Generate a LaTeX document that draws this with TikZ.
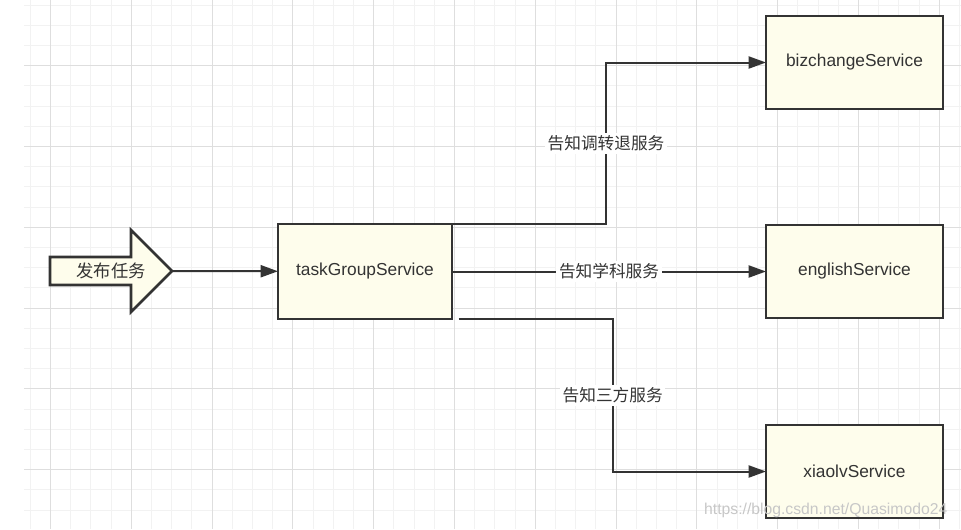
\documentclass[tikz,border=0pt]{standalone}
\usepackage{fontspec}
\setmainfont{Liberation Sans}
\newfontfamily\cjk{Noto Sans CJK SC}
\usepackage{tikz}
\usetikzlibrary{arrows.meta,positioning}

\definecolor{ink}{RGB}{51,51,51}
\definecolor{boxfill}{RGB}{254,253,236}
\definecolor{gridminor}{RGB}{242,242,242}
\definecolor{gridmajor}{RGB}{222,222,222}

\begin{document}
\begin{tikzpicture}[
  x=0.75pt, y=-0.75pt,
  svc/.style={draw=ink, line width=1.9pt, fill=boxfill, text=ink, outer sep=0pt,
              minimum width=132.75pt, minimum height=69.75pt,
              font=\fontsize{13}{15}\selectfont},
  arr/.style={-{Triangle[length=13pt,width=9pt]}, draw=ink, line width=1.5pt},
  lbl/.style={fill=white, text=ink, inner sep=2pt,
              font=\cjk\fontsize{12.5}{15}\selectfont}
]
% background and grid
\useasboundingbox (0,0) rectangle (961,529);
\fill[white] (0,0) rectangle (961,529);
\foreach \k in {0,...,46}
  \draw[gridminor, line width=0.75pt] ({round(29.8+20.2*\k)+0.5},0) -- ({round(29.8+20.2*\k)+0.5},529);
\foreach \k in {0,...,25}
  \draw[gridminor, line width=0.75pt] (24,{round(4.6+20.2*\k)+0.5}) -- (961,{round(4.6+20.2*\k)+0.5});
\foreach \k in {0,...,11}
  \draw[gridmajor, line width=0.9pt] ({round(50+80.8*\k)+0.5},0) -- ({round(50+80.8*\k)+0.5},529);
\foreach \k in {0,...,5}
  \draw[gridmajor, line width=0.9pt] (24,{round(65.2+80.8*\k)+0.5}) -- (961,{round(65.2+80.8*\k)+0.5});

% publish arrow
\draw[draw=ink, line width=1.9pt, fill=boxfill, line join=miter]
  (50,257) -- (131,257) -- (131,230) -- (172,271) -- (131,312) -- (131,285)
  -- (50,285) -- cycle;
\node[text=ink, font=\cjk\fontsize{13}{15}\selectfont] (publish) at (111,271) {发布任务};
\coordinate (publish tip) at (172,271);

% services
\node[svc, minimum width=130.5pt, minimum height=71.25pt] (taskgroup) at (365,271.5)
  {taskGroupService};
\node[svc, right=235.5pt of taskgroup] (english) {englishService};
\node[svc, above=87pt of english] (bizchange) {bizchangeService};
\node[svc, below=80.25pt of english] (xiaolv) {xiaolvService};

\draw[arr] (publish tip) -- (taskgroup);
\draw[arr] (taskgroup.north east) -- ++(154,0)
  |- node[lbl, pos=0.25] {告知调转退服务} (bizchange);
\draw[arr] (taskgroup) -- node[lbl] {告知学科服务} (english);
\draw[arr] ([xshift=5pt]taskgroup.south east) -- ++(154,0)
  |- node[lbl, pos=0.25] {告知三方服务} (xiaolv);

\node[text=black!22, font=\fontsize{11.8}{14}\selectfont, anchor=east] (mark)
  at (952,510) {https://blog.csdn.net/Quasimodo24};
\end{tikzpicture}
\end{document}
